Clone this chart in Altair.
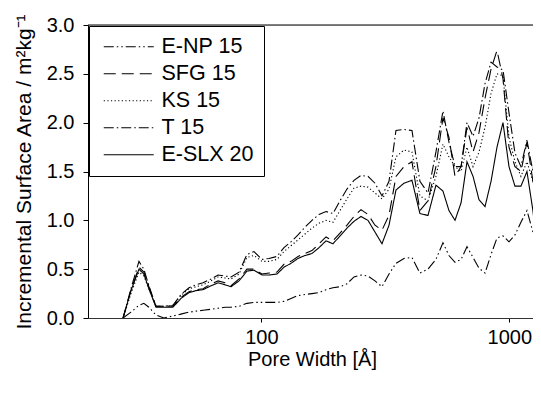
import altair as alt
import pandas as pd

# Pore width grid [Å]
pore_width = [27.7, 29.8, 32.1, 33.6, 35.2, 37.6, 40.5, 44.0, 47.4, 51.1,
              54.5, 58.2, 62.7, 66.9, 71.4, 75.5, 81.3, 87.5, 93.4, 100.6,
              107.4, 115.6, 123.4, 131.7, 140.6, 150.0, 160.0, 170.8, 182.3, 194.5,
              207.6, 221.5, 236.4, 252.3, 269.2, 287.3, 306.6, 327.2, 349.1, 376.0,
              405.0, 436.0, 470.0, 506.0, 540.0, 571.0, 604.0, 639.0, 675.0, 714.0,
              755.0, 798.0, 844.0, 892.0, 943.0, 997.0, 1054.0, 1114.0, 1178.0, 1245.0,
              1290.0]

e_np_15 = [0.00, 0.06, 0.13, 0.15, 0.11, 0.03, 0.00, 0.02, 0.04, 0.06,
           0.07, 0.08, 0.09, 0.10, 0.11, 0.11, 0.12, 0.15, 0.16, 0.16,
           0.16, 0.16, 0.17, 0.20, 0.23, 0.24, 0.25, 0.26, 0.29, 0.31,
           0.32, 0.35, 0.42, 0.44, 0.43, 0.38, 0.32, 0.45, 0.56, 0.61,
           0.62, 0.46, 0.50, 0.60, 0.77, 0.64, 0.57, 0.60, 0.73, 0.62,
           0.51, 0.46, 0.65, 0.82, 0.84, 0.78, 0.85, 0.98, 1.10, 0.88,
           0.75]

sfg_15 = [0.00, 0.28, 0.52, 0.47, 0.32, 0.12, 0.12, 0.12, 0.21, 0.27,
          0.29, 0.30, 0.35, 0.38, 0.36, 0.33, 0.40, 0.50, 0.50, 0.45,
          0.46, 0.47, 0.55, 0.58, 0.63, 0.66, 0.69, 0.76, 0.83, 0.79,
          0.87, 0.95, 1.04, 1.11, 1.06, 0.95, 0.90, 1.05, 1.45, 1.55,
          1.60, 1.10, 1.20, 1.55, 2.05, 1.85, 1.45, 1.55, 1.95, 1.70,
          1.90, 2.25, 2.55, 2.74, 2.45, 1.75, 1.55, 1.50, 1.80, 1.40,
          1.20]

ks_15 = [0.00, 0.25, 0.47, 0.43, 0.30, 0.12, 0.12, 0.13, 0.23, 0.30,
         0.32, 0.34, 0.38, 0.42, 0.41, 0.40, 0.45, 0.62, 0.64, 0.58,
         0.58, 0.60, 0.68, 0.74, 0.80, 0.86, 0.92, 0.97, 1.00, 0.98,
         1.10, 1.22, 1.33, 1.35, 1.34, 1.28, 1.22, 1.32, 1.65, 1.72,
         1.70, 1.25, 1.20, 1.45, 1.78, 1.65, 1.55, 1.50, 1.75, 1.55,
         1.70, 1.95, 2.30, 2.50, 2.48, 1.85, 1.60, 1.45, 1.60, 1.40,
         1.25]

t_15 = [0.00, 0.30, 0.58, 0.50, 0.33, 0.12, 0.12, 0.13, 0.24, 0.31,
        0.34, 0.36, 0.40, 0.44, 0.43, 0.42, 0.47, 0.65, 0.68, 0.60,
        0.61, 0.63, 0.72, 0.78, 0.85, 0.93, 1.00, 1.06, 1.09, 1.07,
        1.20, 1.32, 1.41, 1.46, 1.45, 1.38, 1.25, 1.40, 1.92, 1.93,
        1.92, 1.40, 1.28, 1.70, 2.12, 1.80, 1.55, 1.55, 2.00, 1.86,
        2.05, 2.40, 2.62, 2.57, 2.54, 2.10, 1.69, 1.55, 1.82, 1.50,
        1.85]

e_slx_20 = [0.00, 0.28, 0.50, 0.45, 0.30, 0.11, 0.11, 0.11, 0.20, 0.26,
            0.28, 0.29, 0.33, 0.36, 0.34, 0.32, 0.38, 0.48, 0.49, 0.44,
            0.44, 0.45, 0.52, 0.56, 0.61, 0.64, 0.66, 0.72, 0.79, 0.76,
            0.84, 0.92, 0.99, 1.04, 1.00, 0.88, 0.76, 0.95, 1.31, 1.38,
            1.41, 1.07, 1.05, 1.36, 1.30, 1.10, 1.00, 1.18, 1.60, 1.45,
            1.21, 1.14, 1.40, 1.75, 2.00, 1.55, 1.35, 1.35, 1.50, 1.10,
            0.75]

series_names = ["E-NP 15", "SFG 15", "KS 15", "T 15", "E-SLX 20"]
series_values = [e_np_15, sfg_15, ks_15, t_15, e_slx_20]
dash_styles = [[10, 3, 1.5, 3, 1.5, 3], [12, 6], [1.2, 2.4], [10, 3, 1.5, 3], [1, 0]]

y_ticks = [0.0, 0.5, 1.0, 1.5, 2.0, 2.5, 3.0]
x_ticks = [100, 1000]

rows = []
for name, vals in zip(series_names, series_values):
    for i, (xv, yv) in enumerate(zip(pore_width, vals)):
        rows.append({"series": name, "x": xv, "y": yv, "i": i})
df = pd.DataFrame(rows)

FONT = "Liberation Sans"
W, H = 445, 293

lines = alt.Chart(df).mark_line(color="black", strokeWidth=1.1, clip=True).encode(
    x=alt.X("x:Q",
            scale=alt.Scale(type="log", domain=[20, 1246], nice=False),
            axis=alt.Axis(values=x_ticks, format="d", tickSize=4, labelPadding=5,
                          labelFontSize=20, labelFont=FONT, labelColor="black",
                          title="Pore Width [Å]", titleFontSize=20, titleFont=FONT,
                          titleFontWeight="normal", titleColor="black",
                          titleX=224, titleY=47, titleBaseline="alphabetic",
                          grid=False, domainColor="#333", tickColor="black",
                          labelFlush=False)),
    y=alt.Y("y:Q",
            scale=alt.Scale(domain=[0, 3], nice=False),
            axis=alt.Axis(values=y_ticks, format=".1f", tickSize=5, labelPadding=9,
                          labelFontSize=20, labelFont=FONT, labelColor="black",
                          title="Incremental Surface Area / m²kg⁻¹", titleFontSize=21,
                          titleFont=FONT, titleFontWeight="normal", titleColor="black",
                          titleX=-58, titleY=H / 2, titleBaseline="alphabetic",
                          grid=False, domainColor="black", tickColor="black")),
    strokeDash=alt.StrokeDash("series:N",
                              scale=alt.Scale(domain=series_names, range=dash_styles),
                              sort=series_names,
                              legend=alt.Legend(title=None, orient="none", legendX=1, legendY=1,
                                                padding=10, strokeColor="black", fillColor="white",
                                                labelFont=FONT, labelFontSize=21.5, labelColor="black",
                                                symbolType="M-1.2,0H8.8", symbolSize=100,
                                                symbolStrokeWidth=1.2, symbolStrokeColor="black",
                                                labelOffset=41, rowPadding=4)),
    detail="series:N",
    order="i:Q",
)

frame = alt.Chart(pd.DataFrame({"a": [0]})).mark_rule(color="black", strokeWidth=1).encode(
    x=alt.value(0), x2=alt.value(W), y=alt.value(0)
)

chart = alt.layer(lines, frame).properties(
    width=W, height=H,
    autosize=alt.AutoSizeParams(type="none"),
    padding={"left": 80, "top": 17, "right": 0, "bottom": 60},
    background="white",
).configure_view(stroke=None).configure(font=FONT)

chart.save("out.html", embed_options={"renderer": "svg", "actions": False})
